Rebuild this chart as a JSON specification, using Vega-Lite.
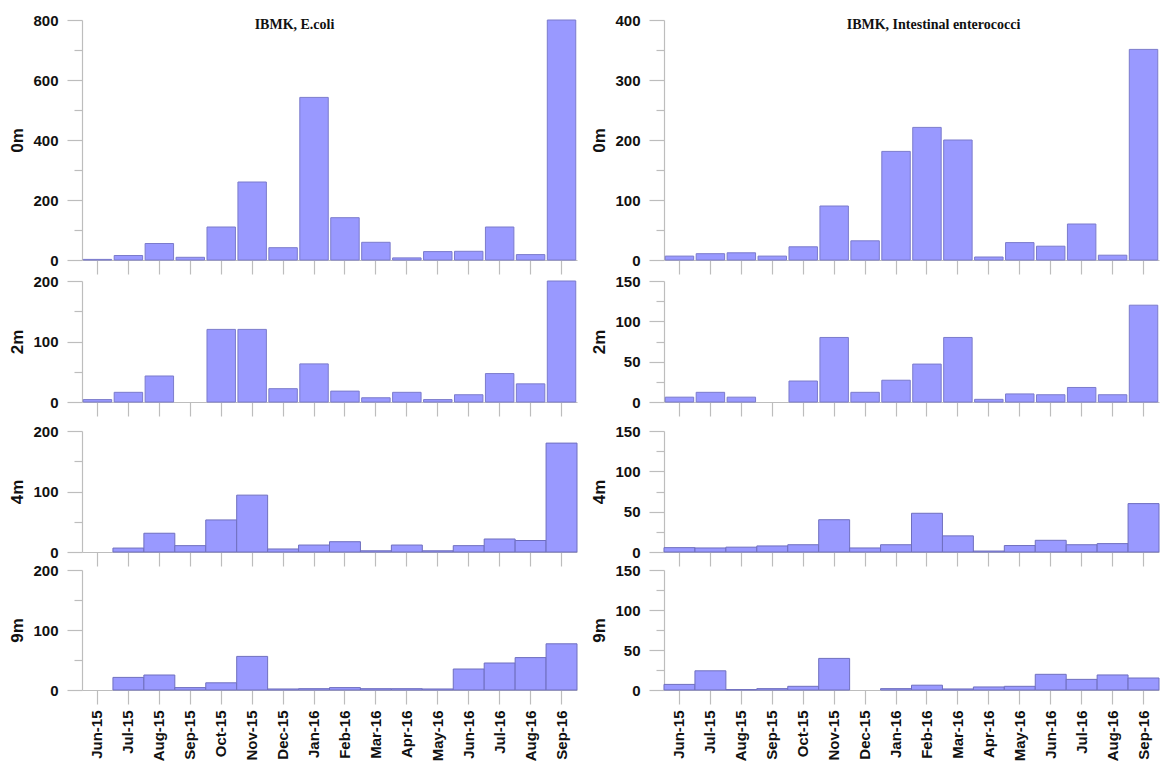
{
  "$schema": "https://vega.github.io/schema/vega-lite/v6.json",
  "padding": {"left": 8, "top": 13, "right": 0, "bottom": 0},
  "background": "white",
  "datasets": {
    "bact": [
      {"site":"E","depth":"0m","month":"Jun-15","value":2},{"site":"E","depth":"0m","month":"Jul-15","value":15},{"site":"E","depth":"0m","month":"Aug-15","value":55},{"site":"E","depth":"0m","month":"Sep-15","value":9},{"site":"E","depth":"0m","month":"Oct-15","value":110},{"site":"E","depth":"0m","month":"Nov-15","value":260},{"site":"E","depth":"0m","month":"Dec-15","value":41},{"site":"E","depth":"0m","month":"Jan-16","value":542},{"site":"E","depth":"0m","month":"Feb-16","value":141},{"site":"E","depth":"0m","month":"Mar-16","value":59},{"site":"E","depth":"0m","month":"Apr-16","value":7},{"site":"E","depth":"0m","month":"May-16","value":28},{"site":"E","depth":"0m","month":"Jun-16","value":29},{"site":"E","depth":"0m","month":"Jul-16","value":110},{"site":"E","depth":"0m","month":"Aug-16","value":18},{"site":"E","depth":"0m","month":"Sep-16","value":800},
      {"site":"E","depth":"2m","month":"Jun-15","value":4},{"site":"E","depth":"2m","month":"Jul-15","value":16},{"site":"E","depth":"2m","month":"Aug-15","value":43},{"site":"E","depth":"2m","month":"Sep-15","value":0},{"site":"E","depth":"2m","month":"Oct-15","value":120},{"site":"E","depth":"2m","month":"Nov-15","value":120},{"site":"E","depth":"2m","month":"Dec-15","value":22},{"site":"E","depth":"2m","month":"Jan-16","value":63},{"site":"E","depth":"2m","month":"Feb-16","value":18},{"site":"E","depth":"2m","month":"Mar-16","value":7},{"site":"E","depth":"2m","month":"Apr-16","value":16},{"site":"E","depth":"2m","month":"May-16","value":4},{"site":"E","depth":"2m","month":"Jun-16","value":12},{"site":"E","depth":"2m","month":"Jul-16","value":47},{"site":"E","depth":"2m","month":"Aug-16","value":30},{"site":"E","depth":"2m","month":"Sep-16","value":200},
      {"site":"E","depth":"4m","month":"Jun-15","value":0},{"site":"E","depth":"4m","month":"Jul-15","value":6.5},{"site":"E","depth":"4m","month":"Aug-15","value":31},{"site":"E","depth":"4m","month":"Sep-15","value":10.5},{"site":"E","depth":"4m","month":"Oct-15","value":53},{"site":"E","depth":"4m","month":"Nov-15","value":94},{"site":"E","depth":"4m","month":"Dec-15","value":5},{"site":"E","depth":"4m","month":"Jan-16","value":11.5},{"site":"E","depth":"4m","month":"Feb-16","value":17},{"site":"E","depth":"4m","month":"Mar-16","value":2},{"site":"E","depth":"4m","month":"Apr-16","value":11.5},{"site":"E","depth":"4m","month":"May-16","value":2},{"site":"E","depth":"4m","month":"Jun-16","value":10.5},{"site":"E","depth":"4m","month":"Jul-16","value":21.5},{"site":"E","depth":"4m","month":"Aug-16","value":19},{"site":"E","depth":"4m","month":"Sep-16","value":180},
      {"site":"E","depth":"9m","month":"Jun-15","value":0},{"site":"E","depth":"9m","month":"Jul-15","value":21},{"site":"E","depth":"9m","month":"Aug-15","value":25},{"site":"E","depth":"9m","month":"Sep-15","value":4},{"site":"E","depth":"9m","month":"Oct-15","value":12},{"site":"E","depth":"9m","month":"Nov-15","value":56},{"site":"E","depth":"9m","month":"Dec-15","value":1.7},{"site":"E","depth":"9m","month":"Jan-16","value":2.2},{"site":"E","depth":"9m","month":"Feb-16","value":4},{"site":"E","depth":"9m","month":"Mar-16","value":2.2},{"site":"E","depth":"9m","month":"Apr-16","value":2.2},{"site":"E","depth":"9m","month":"May-16","value":1.7},{"site":"E","depth":"9m","month":"Jun-16","value":35},{"site":"E","depth":"9m","month":"Jul-16","value":45},{"site":"E","depth":"9m","month":"Aug-16","value":54},{"site":"E","depth":"9m","month":"Sep-16","value":77},
      {"site":"I","depth":"0m","month":"Jun-15","value":6.5},{"site":"I","depth":"0m","month":"Jul-15","value":10.5},{"site":"I","depth":"0m","month":"Aug-15","value":12},{"site":"I","depth":"0m","month":"Sep-15","value":6.5},{"site":"I","depth":"0m","month":"Oct-15","value":22},{"site":"I","depth":"0m","month":"Nov-15","value":90},{"site":"I","depth":"0m","month":"Dec-15","value":32},{"site":"I","depth":"0m","month":"Jan-16","value":181},{"site":"I","depth":"0m","month":"Feb-16","value":221},{"site":"I","depth":"0m","month":"Mar-16","value":200},{"site":"I","depth":"0m","month":"Apr-16","value":5},{"site":"I","depth":"0m","month":"May-16","value":29},{"site":"I","depth":"0m","month":"Jun-16","value":23},{"site":"I","depth":"0m","month":"Jul-16","value":60},{"site":"I","depth":"0m","month":"Aug-16","value":8},{"site":"I","depth":"0m","month":"Sep-16","value":351},
      {"site":"I","depth":"2m","month":"Jun-15","value":6},{"site":"I","depth":"2m","month":"Jul-15","value":12},{"site":"I","depth":"2m","month":"Aug-15","value":6},{"site":"I","depth":"2m","month":"Sep-15","value":0},{"site":"I","depth":"2m","month":"Oct-15","value":26},{"site":"I","depth":"2m","month":"Nov-15","value":80},{"site":"I","depth":"2m","month":"Dec-15","value":12},{"site":"I","depth":"2m","month":"Jan-16","value":27},{"site":"I","depth":"2m","month":"Feb-16","value":47},{"site":"I","depth":"2m","month":"Mar-16","value":80},{"site":"I","depth":"2m","month":"Apr-16","value":3.3},{"site":"I","depth":"2m","month":"May-16","value":10},{"site":"I","depth":"2m","month":"Jun-16","value":9},{"site":"I","depth":"2m","month":"Jul-16","value":18},{"site":"I","depth":"2m","month":"Aug-16","value":9},{"site":"I","depth":"2m","month":"Sep-16","value":120},
      {"site":"I","depth":"4m","month":"Jun-15","value":5.4},{"site":"I","depth":"4m","month":"Jul-15","value":5},{"site":"I","depth":"4m","month":"Aug-15","value":6},{"site":"I","depth":"4m","month":"Sep-15","value":7.5},{"site":"I","depth":"4m","month":"Oct-15","value":9},{"site":"I","depth":"4m","month":"Nov-15","value":40},{"site":"I","depth":"4m","month":"Dec-15","value":5},{"site":"I","depth":"4m","month":"Jan-16","value":9},{"site":"I","depth":"4m","month":"Feb-16","value":48},{"site":"I","depth":"4m","month":"Mar-16","value":20},{"site":"I","depth":"4m","month":"Apr-16","value":1.2},{"site":"I","depth":"4m","month":"May-16","value":8},{"site":"I","depth":"4m","month":"Jun-16","value":14.5},{"site":"I","depth":"4m","month":"Jul-16","value":9},{"site":"I","depth":"4m","month":"Aug-16","value":10.4},{"site":"I","depth":"4m","month":"Sep-16","value":60},
      {"site":"I","depth":"9m","month":"Jun-15","value":7},{"site":"I","depth":"9m","month":"Jul-15","value":24},{"site":"I","depth":"9m","month":"Aug-15","value":0.5},{"site":"I","depth":"9m","month":"Sep-15","value":1.7},{"site":"I","depth":"9m","month":"Oct-15","value":4.6},{"site":"I","depth":"9m","month":"Nov-15","value":39.5},{"site":"I","depth":"9m","month":"Dec-15","value":0},{"site":"I","depth":"9m","month":"Jan-16","value":1.7},{"site":"I","depth":"9m","month":"Feb-16","value":6},{"site":"I","depth":"9m","month":"Mar-16","value":1.3},{"site":"I","depth":"9m","month":"Apr-16","value":3.8},{"site":"I","depth":"9m","month":"May-16","value":4.6},{"site":"I","depth":"9m","month":"Jun-16","value":19.6},{"site":"I","depth":"9m","month":"Jul-16","value":13.3},{"site":"I","depth":"9m","month":"Aug-16","value":18.8},{"site":"I","depth":"9m","month":"Sep-16","value":15}
    ]
  },
  "data": {"name": "bact"},
  "spacing": 7,
  "vconcat": [
    {
      "spacing": -1,
      "vconcat": [
        {
          "bounds": "flush",
          "spacing": 87,
          "hconcat": [
            {
              "width": 495, "height": 240,
              "title": {"text": "IBMK, E.coli", "dx": -35},
              "transform": [{"filter": "datum.site == 'E' && datum.depth == '0m'"}],
              "mark": {"type": "bar", "fill": "#9999ff", "stroke": "#7b7bcc", "strokeWidth": 1},
              "encoding": {
                "x": {"field": "month", "type": "nominal", "sort": ["Jun-15","Jul-15","Aug-15","Sep-15","Oct-15","Nov-15","Dec-15","Jan-16","Feb-16","Mar-16","Apr-16","May-16","Jun-16","Jul-16","Aug-16","Sep-16"], "scale": {"paddingInner": 0.08, "paddingOuter": 0.04}, "axis": {"title": null, "labels": false}},
                "y": {"field": "value", "type": "quantitative", "scale": {"domain": [0, 800], "nice": false},
                      "axis": {"title": "0m", "values": [0,100,200,300,400,500,600,700,800], "labelExpr": "datum.value % 200 == 0 ? datum.label : ''", "tickSize": {"condition": {"test": "datum.value % 200 == 0", "value": 15}, "value": 8}}},
                "strokeOpacity": {"condition": {"test": "datum.value == 0", "value": 0}, "value": 1}
              }
            },
            {
              "width": 495, "height": 240,
              "title": {"text": "IBMK, Intestinal enterococci", "dx": 22},
              "transform": [{"filter": "datum.site == 'I' && datum.depth == '0m'"}],
              "mark": {"type": "bar", "fill": "#9999ff", "stroke": "#7b7bcc", "strokeWidth": 1},
              "encoding": {
                "x": {"field": "month", "type": "nominal", "sort": ["Jun-15","Jul-15","Aug-15","Sep-15","Oct-15","Nov-15","Dec-15","Jan-16","Feb-16","Mar-16","Apr-16","May-16","Jun-16","Jul-16","Aug-16","Sep-16"], "scale": {"paddingInner": 0.08, "paddingOuter": 0.04}, "axis": {"title": null, "labels": false}},
                "y": {"field": "value", "type": "quantitative", "scale": {"domain": [0, 400], "nice": false},
                      "axis": {"title": "0m", "values": [0,50,100,150,200,250,300,350,400], "labelExpr": "datum.value % 100 == 0 ? datum.label : ''", "tickSize": {"condition": {"test": "datum.value % 100 == 0", "value": 15}, "value": 8}}},
                "strokeOpacity": {"condition": {"test": "datum.value == 0", "value": 0}, "value": 1}
              }
            }
          ]
        },
        {
          "bounds": "flush",
          "spacing": 87,
          "hconcat": [
            {
              "width": 495, "height": 121,
              "transform": [{"filter": "datum.site == 'E' && datum.depth == '2m'"}],
              "mark": {"type": "bar", "fill": "#9999ff", "stroke": "#7b7bcc", "strokeWidth": 1},
              "encoding": {
                "x": {"field": "month", "type": "nominal", "sort": ["Jun-15","Jul-15","Aug-15","Sep-15","Oct-15","Nov-15","Dec-15","Jan-16","Feb-16","Mar-16","Apr-16","May-16","Jun-16","Jul-16","Aug-16","Sep-16"], "scale": {"paddingInner": 0.08, "paddingOuter": 0.04}, "axis": {"title": null, "labels": false}},
                "y": {"field": "value", "type": "quantitative", "scale": {"domain": [0, 200], "nice": false},
                      "axis": {"title": "2m", "values": [0,50,100,150,200], "labelExpr": "datum.value % 100 == 0 ? datum.label : ''", "tickSize": {"condition": {"test": "datum.value % 100 == 0", "value": 15}, "value": 8}}},
                "strokeOpacity": {"condition": {"test": "datum.value == 0", "value": 0}, "value": 1}
              }
            },
            {
              "width": 495, "height": 121,
              "transform": [{"filter": "datum.site == 'I' && datum.depth == '2m'"}],
              "mark": {"type": "bar", "fill": "#9999ff", "stroke": "#7b7bcc", "strokeWidth": 1},
              "encoding": {
                "x": {"field": "month", "type": "nominal", "sort": ["Jun-15","Jul-15","Aug-15","Sep-15","Oct-15","Nov-15","Dec-15","Jan-16","Feb-16","Mar-16","Apr-16","May-16","Jun-16","Jul-16","Aug-16","Sep-16"], "scale": {"paddingInner": 0.08, "paddingOuter": 0.04}, "axis": {"title": null, "labels": false}},
                "y": {"field": "value", "type": "quantitative", "scale": {"domain": [0, 150], "nice": false},
                      "axis": {"title": "2m", "values": [0,25,50,75,100,125,150], "labelExpr": "datum.value % 50 == 0 ? datum.label : ''", "tickSize": {"condition": {"test": "datum.value % 50 == 0", "value": 15}, "value": 8}}},
                "strokeOpacity": {"condition": {"test": "datum.value == 0", "value": 0}, "value": 1}
              }
            }
          ]
        }
      ]
    },
    {
      "spacing": -4,
      "vconcat": [
        {
          "bounds": "flush",
          "spacing": 87,
          "hconcat": [
            {
              "width": 495, "height": 121,
              "transform": [{"filter": "datum.site == 'E' && datum.depth == '4m'"}],
              "mark": {"type": "bar", "fill": "#9999ff", "stroke": "#6f6fbf", "strokeWidth": 1},
              "encoding": {
                "x": {"field": "month", "type": "nominal", "sort": ["Jun-15","Jul-15","Aug-15","Sep-15","Oct-15","Nov-15","Dec-15","Jan-16","Feb-16","Mar-16","Apr-16","May-16","Jun-16","Jul-16","Aug-16","Sep-16"], "scale": {"paddingInner": 0, "paddingOuter": 0}, "axis": {"title": null, "labels": false}},
                "y": {"field": "value", "type": "quantitative", "scale": {"domain": [0, 200], "nice": false},
                      "axis": {"title": "4m", "values": [0,50,100,150,200], "labelExpr": "datum.value % 100 == 0 ? datum.label : ''", "tickSize": {"condition": {"test": "datum.value % 100 == 0", "value": 15}, "value": 8}}},
                "strokeOpacity": {"condition": {"test": "datum.value == 0", "value": 0}, "value": 1}
              }
            },
            {
              "width": 495, "height": 121,
              "transform": [{"filter": "datum.site == 'I' && datum.depth == '4m'"}],
              "mark": {"type": "bar", "fill": "#9999ff", "stroke": "#6f6fbf", "strokeWidth": 1},
              "encoding": {
                "x": {"field": "month", "type": "nominal", "sort": ["Jun-15","Jul-15","Aug-15","Sep-15","Oct-15","Nov-15","Dec-15","Jan-16","Feb-16","Mar-16","Apr-16","May-16","Jun-16","Jul-16","Aug-16","Sep-16"], "scale": {"paddingInner": 0, "paddingOuter": 0}, "axis": {"title": null, "labels": false}},
                "y": {"field": "value", "type": "quantitative", "scale": {"domain": [0, 150], "nice": false},
                      "axis": {"title": "4m", "values": [0,25,50,75,100,125,150], "labelExpr": "datum.value % 50 == 0 ? datum.label : ''", "tickSize": {"condition": {"test": "datum.value % 50 == 0", "value": 15}, "value": 8}}},
                "strokeOpacity": {"condition": {"test": "datum.value == 0", "value": 0}, "value": 1}
              }
            }
          ]
        },
        {
          "bounds": "flush",
          "spacing": 87,
          "hconcat": [
            {
              "width": 495, "height": 120,
              "transform": [{"filter": "datum.site == 'E' && datum.depth == '9m'"}],
              "mark": {"type": "bar", "fill": "#9999ff", "stroke": "#6f6fbf", "strokeWidth": 1},
              "encoding": {
                "x": {"field": "month", "type": "nominal", "sort": ["Jun-15","Jul-15","Aug-15","Sep-15","Oct-15","Nov-15","Dec-15","Jan-16","Feb-16","Mar-16","Apr-16","May-16","Jun-16","Jul-16","Aug-16","Sep-16"], "scale": {"paddingInner": 0, "paddingOuter": 0}, "axis": {"title": null, "labelAngle": -90, "labelPadding": 6}},
                "y": {"field": "value", "type": "quantitative", "scale": {"domain": [0, 200], "nice": false},
                      "axis": {"title": "9m", "values": [0,50,100,150,200], "labelExpr": "datum.value % 100 == 0 ? datum.label : ''", "tickSize": {"condition": {"test": "datum.value % 100 == 0", "value": 15}, "value": 8}}},
                "strokeOpacity": {"condition": {"test": "datum.value == 0", "value": 0}, "value": 1}
              }
            },
            {
              "width": 495, "height": 120,
              "transform": [{"filter": "datum.site == 'I' && datum.depth == '9m'"}],
              "mark": {"type": "bar", "fill": "#9999ff", "stroke": "#6f6fbf", "strokeWidth": 1},
              "encoding": {
                "x": {"field": "month", "type": "nominal", "sort": ["Jun-15","Jul-15","Aug-15","Sep-15","Oct-15","Nov-15","Dec-15","Jan-16","Feb-16","Mar-16","Apr-16","May-16","Jun-16","Jul-16","Aug-16","Sep-16"], "scale": {"paddingInner": 0, "paddingOuter": 0}, "axis": {"title": null, "labelAngle": -90, "labelPadding": 6}},
                "y": {"field": "value", "type": "quantitative", "scale": {"domain": [0, 150], "nice": false},
                      "axis": {"title": "9m", "values": [0,25,50,75,100,125,150], "labelExpr": "datum.value % 50 == 0 ? datum.label : ''", "tickSize": {"condition": {"test": "datum.value % 50 == 0", "value": 15}, "value": 8}}},
                "strokeOpacity": {"condition": {"test": "datum.value == 0", "value": 0}, "value": 1}
              }
            }
          ]
        }
      ]
    }
  ],
  "config": {
    "view": {"stroke": null},
    "axis": {
      "grid": false,
      "domainColor": "#bdbdbd", "domainWidth": 1.2,
      "tickColor": "#bdbdbd", "tickWidth": 1.2,
      "labelFont": "Liberation Sans", "labelFontSize": 15, "labelFontWeight": "bold", "labelColor": "#111111",
      "titleFont": "Liberation Sans", "titleFontSize": 17, "titleFontWeight": "bold", "titleColor": "#111111"
    },
    "axisX": {"tickSize": 14},
    "axisY": {"labelPadding": 9, "titlePadding": 6},
    "title": {"font": "Liberation Serif", "fontSize": 14, "fontWeight": "bold", "color": "#111111", "anchor": "middle", "frame": "group", "baseline": "middle", "offset": -19}
  }
}
